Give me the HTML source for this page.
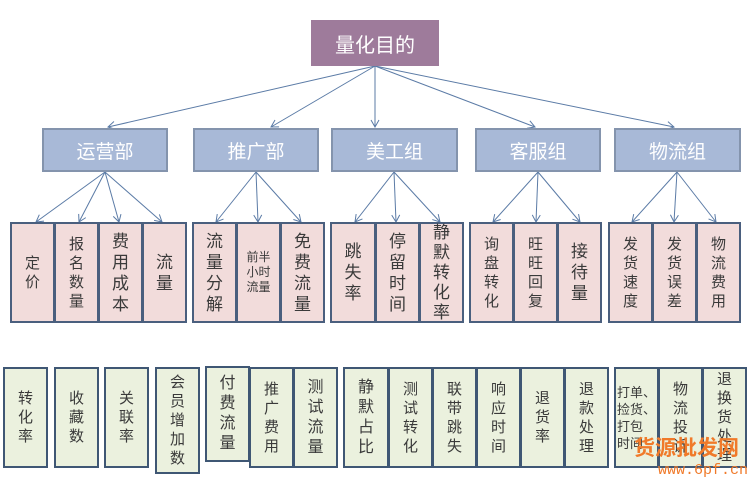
<!DOCTYPE html>
<html><head><meta charset="utf-8"><style>
html,body{margin:0;padding:0;background:#fff;}
body{width:749px;height:495px;position:relative;overflow:hidden;font-family:"Liberation Sans","Noto Sans CJK SC",sans-serif;}
.b{position:absolute;box-sizing:border-box;display:flex;align-items:center;justify-content:center;text-align:center;color:#3a3a3a;}
.p{background:#f2dcdb;border:2px solid #4a5f7e;font-size:17px;line-height:21px;}
.g{background:#ebf1de;border:2px solid #3f5774;font-size:16px;line-height:20px;}
.d{background:#a8b9d7;border:2px solid #8494ad;color:#fff;font-size:19px;}
.h{background:#9e7b9b;color:#fff;font-size:20px;}
.s{font-size:15px;line-height:19px;}
.t{font-size:12px;line-height:15px;}
.wm{position:absolute;color:#f07a2a;font-family:"Noto Sans CJK SC",sans-serif;}
</style></head><body>
<svg width="749" height="495" style="position:absolute;left:0;top:0">
<defs><marker id="a" markerWidth="10" markerHeight="10" refX="9" refY="5" orient="auto" markerUnits="userSpaceOnUse"><path d="M2,1 L9,5 L2,9" fill="none" stroke="#5b7ba6" stroke-width="1"/></marker></defs>
<g stroke="#5b7ba6" stroke-width="1" fill="none" marker-end="url(#a)">
<line x1="375" y1="66" x2="108" y2="127"/><line x1="375" y1="66" x2="271" y2="127"/><line x1="375" y1="66" x2="375" y2="127"/><line x1="375" y1="66" x2="535" y2="127"/><line x1="375" y1="66" x2="674" y2="127"/>
<line x1="105" y1="172" x2="36" y2="222"/><line x1="105" y1="172" x2="79" y2="222"/><line x1="105" y1="172" x2="119" y2="222"/><line x1="105" y1="172" x2="162" y2="222"/>
<line x1="256" y1="172" x2="216" y2="222"/><line x1="256" y1="172" x2="258" y2="222"/><line x1="256" y1="172" x2="301" y2="222"/>
<line x1="394" y1="172" x2="355" y2="222"/><line x1="394" y1="172" x2="396" y2="222"/><line x1="394" y1="172" x2="440" y2="222"/>
<line x1="538" y1="172" x2="493" y2="222"/><line x1="538" y1="172" x2="536" y2="222"/><line x1="538" y1="172" x2="580" y2="222"/>
<line x1="677" y1="172" x2="632" y2="222"/><line x1="677" y1="172" x2="674" y2="222"/><line x1="677" y1="172" x2="716" y2="222"/>
</g></svg>
<div class="b h" style="left:311px;top:20px;width:128px;height:46px">量化目的</div>
<div class="b d" style="left:42px;top:128px;width:126px;height:44px">运营部</div>
<div class="b d" style="left:193px;top:128px;width:126px;height:44px">推广部</div>
<div class="b d" style="left:331px;top:128px;width:127px;height:44px">美工组</div>
<div class="b d" style="left:475px;top:128px;width:126px;height:44px">客服组</div>
<div class="b d" style="left:614px;top:128px;width:127px;height:44px">物流组</div>

<div class="b p s" style="left:10px;top:222px;width:45px;height:101px">定<br>价</div>
<div class="b p s" style="left:54px;top:222px;width:45px;height:101px">报<br>名<br>数<br>量</div>
<div class="b p" style="left:98px;top:222px;width:45px;height:101px">费<br>用<br>成<br>本</div>
<div class="b p" style="left:142px;top:222px;width:45px;height:101px">流<br>量</div>
<div class="b p" style="left:192px;top:222px;width:45px;height:101px">流<br>量<br>分<br>解</div>
<div class="b p t" style="left:236px;top:222px;width:45px;height:101px">前半<br>小时<br>流量</div>
<div class="b p" style="left:280px;top:222px;width:45px;height:101px">免<br>费<br>流<br>量</div>
<div class="b p" style="left:330px;top:222px;width:46px;height:101px">跳<br>失<br>率</div>
<div class="b p" style="left:375px;top:222px;width:45px;height:101px">停<br>留<br>时<br>间</div>
<div class="b p" style="left:419px;top:222px;width:45px;height:101px;line-height:20px">静<br>默<br>转<br>化<br>率</div>
<div class="b p s" style="left:469px;top:222px;width:45px;height:101px">询<br>盘<br>转<br>化</div>
<div class="b p s" style="left:513px;top:222px;width:45px;height:101px">旺<br>旺<br>回<br>复</div>
<div class="b p" style="left:557px;top:222px;width:45px;height:101px">接<br>待<br>量</div>
<div class="b p s" style="left:608px;top:222px;width:45px;height:101px">发<br>货<br>速<br>度</div>
<div class="b p s" style="left:652px;top:222px;width:45px;height:101px">发<br>货<br>误<br>差</div>
<div class="b p s" style="left:696px;top:222px;width:45px;height:101px">物<br>流<br>费<br>用</div>

<div class="b g s" style="left:3px;top:367px;width:45px;height:101px">转<br>化<br>率</div>
<div class="b g s" style="left:54px;top:367px;width:45px;height:101px">收<br>藏<br>数</div>
<div class="b g s" style="left:104px;top:367px;width:45px;height:101px">关<br>联<br>率</div>
<div class="b g s" style="left:155px;top:367px;width:45px;height:107px">会<br>员<br>增<br>加<br>数</div>
<div class="b g" style="left:205px;top:366px;width:45px;height:96px">付<br>费<br>流<br>量</div>
<div class="b g s" style="left:249px;top:367px;width:45px;height:101px">推<br>广<br>费<br>用</div>
<div class="b g" style="left:293px;top:367px;width:45px;height:101px">测<br>试<br>流<br>量</div>
<div class="b g" style="left:343px;top:367px;width:46px;height:101px">静<br>默<br>占<br>比</div>
<div class="b g s" style="left:388px;top:367px;width:45px;height:101px">测<br>试<br>转<br>化</div>
<div class="b g s" style="left:432px;top:367px;width:45px;height:101px">联<br>带<br>跳<br>失</div>
<div class="b g s" style="left:476px;top:367px;width:45px;height:101px">响<br>应<br>时<br>间</div>
<div class="b g s" style="left:520px;top:367px;width:45px;height:101px">退<br>货<br>率</div>
<div class="b g s" style="left:564px;top:367px;width:45px;height:101px">退<br>款<br>处<br>理</div>
<div class="b g" style="left:614px;top:367px;width:45px;height:101px;font-size:13px;line-height:17px;text-align:left">打单、<br>捡货、<br>打包<br>时间</div>
<div class="b g s" style="left:658px;top:367px;width:45px;height:101px">物<br>流<br>投<br>诉</div>
<div class="b g s" style="left:702px;top:367px;width:45px;height:101px">退<br>换<br>货<br>处<br>理</div>
<div class="wm" style="left:634px;top:432px;font-size:21px;font-weight:bold">货源批发网</div>
<div class="wm" style="left:658px;top:462px;font-size:15px;font-family:'Liberation Mono',monospace">www.6pf.cn</div>
</body></html>
